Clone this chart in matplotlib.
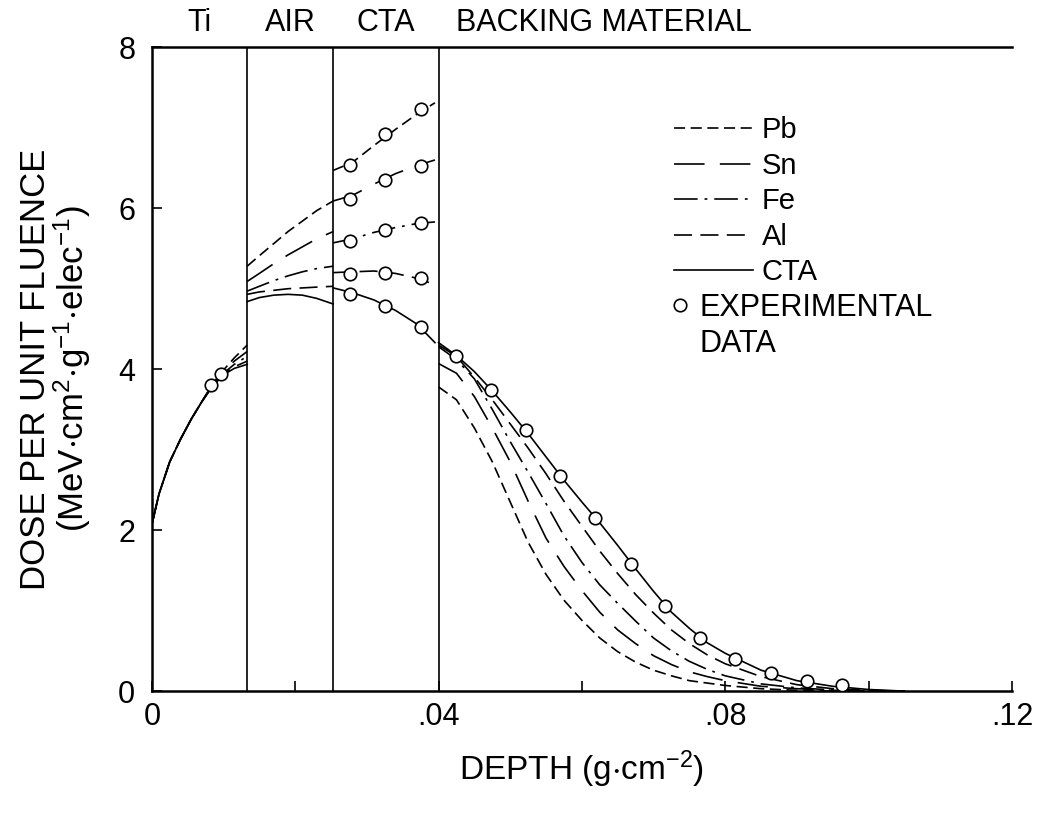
import matplotlib
matplotlib.use("Agg")
import matplotlib.pyplot as plt
from matplotlib.lines import Line2D
from matplotlib.transforms import blended_transform_factory

plt.rcParams.update({
    "font.family": ["Liberation Sans", "DejaVu Sans"],
    "mathtext.fontset": "custom",
    "mathtext.rm": "Liberation Sans",
    "mathtext.it": "Liberation Sans:italic",
    "mathtext.default": "regular",
    "lines.scale_dashes": False,
    "axes.linewidth": 1.8,
})

# ---------------------------------------------------------------------------
# Data (depth in g/cm^2, dose in MeV cm^2 g^-1 per electron)
# ---------------------------------------------------------------------------

MATERIALS = ["Pb", "Sn", "Fe", "Al", "CTA"]
LAYER_BOUNDS = [0.0133, 0.0253, 0.040]
LAYER_NAMES = ["Ti", "AIR", "CTA", "BACKING MATERIAL"]

# Ti window
TI_X = [0.0, 0.001, 0.0025, 0.004, 0.0055, 0.007, 0.0085, 0.010, 0.0115, 0.0133]
TI_Y = {
    "Pb":  [2.07, 2.45, 2.85, 3.13, 3.38, 3.60, 3.82, 3.99, 4.14, 4.30],
    "Sn":  [2.07, 2.45, 2.85, 3.13, 3.38, 3.60, 3.81, 3.97, 4.10, 4.22],
    "Fe":  [2.07, 2.45, 2.85, 3.13, 3.38, 3.60, 3.80, 3.95, 4.06, 4.16],
    "Al":  [2.07, 2.45, 2.85, 3.13, 3.38, 3.60, 3.80, 3.94, 4.03, 4.10],
    "CTA": [2.07, 2.45, 2.85, 3.13, 3.38, 3.60, 3.79, 3.93, 4.01, 4.06],
}

# air gap
AIR_X = [0.0133, 0.015, 0.017, 0.019, 0.021, 0.023, 0.0253]
AIR_Y = {
    "Pb":  [5.28, 5.41, 5.56, 5.71, 5.84, 5.97, 6.09],
    "Sn":  [5.09, 5.19, 5.31, 5.42, 5.52, 5.62, 5.71],
    "Fe":  [4.97, 5.03, 5.10, 5.16, 5.21, 5.25, 5.28],
    "Al":  [4.93, 4.96, 4.98, 5.00, 5.01, 5.02, 5.03],
    "CTA": [4.84, 4.89, 4.92, 4.93, 4.92, 4.88, 4.81],
}

# CTA dosimeter film
CTA_X = [0.0253, 0.028, 0.031, 0.034, 0.037, 0.0395]
CTA_Y = {
    "Pb":  [6.47, 6.57, 6.78, 6.98, 7.17, 7.31],
    "Sn":  [6.09, 6.16, 6.30, 6.43, 6.53, 6.60],
    "Fe":  [5.57, 5.62, 5.70, 5.76, 5.81, 5.83],
    "Al":  [5.20, 5.21, 5.22, 5.19, 5.13, 5.05],
    "CTA": [5.01, 4.95, 4.86, 4.73, 4.56, 4.33],
}

# backing material
BACK_X = [0.040, 0.0425, 0.045, 0.0475, 0.050, 0.0525, 0.055, 0.0575, 0.060,
          0.0625, 0.065, 0.0675, 0.070, 0.0725, 0.075, 0.0775, 0.080, 0.085,
          0.090, 0.095, 0.100, 0.105]
BACK_Y = {
    "Pb":  [3.78, 3.62, 3.27, 2.85, 2.35, 1.85, 1.45, 1.13, 0.88, 0.66, 0.49,
            0.36, 0.26, 0.19, 0.13, 0.10, 0.07, 0.03, 0.01, 0.0, 0.0, 0.0],
    "Sn":  [4.07, 3.95, 3.66, 3.27, 2.85, 2.36, 1.90, 1.55, 1.25, 0.98, 0.76,
            0.59, 0.44, 0.33, 0.24, 0.18, 0.13, 0.06, 0.03, 0.01, 0.0, 0.0],
    "Fe":  [4.28, 4.12, 3.88, 3.50, 3.10, 2.72, 2.33, 1.93, 1.60, 1.32, 1.09,
            0.87, 0.66, 0.50, 0.37, 0.27, 0.19, 0.09, 0.04, 0.015, 0.0, 0.0],
    "Al":  [4.30, 4.16, 3.90, 3.62, 3.32, 3.02, 2.70, 2.36, 2.05, 1.74, 1.46,
            1.20, 0.97, 0.76, 0.59, 0.45, 0.34, 0.18, 0.08, 0.03, 0.01, 0.0],
    "CTA": [4.33, 4.17, 3.97, 3.73, 3.47, 3.20, 2.91, 2.62, 2.35, 2.09, 1.81,
            1.52, 1.24, 0.98, 0.78, 0.60, 0.47, 0.26, 0.13, 0.06, 0.02, 0.0],
}

# experimental points
EXP_TI_X = [0.0083, 0.0097]
EXP_TI_Y = [3.80, 3.94]
EXP_CTA_X = [0.0277, 0.0326, 0.0375]
EXP_CTA_Y = {
    "Pb":  [6.54, 6.92, 7.23],
    "Sn":  [6.11, 6.35, 6.53],
    "Fe":  [5.59, 5.73, 5.82],
    "Al":  [5.18, 5.20, 5.13],
    "CTA": [4.94, 4.79, 4.53],
}
EXP_BACK_X = [0.0425, 0.0473, 0.0522, 0.0570, 0.0618, 0.0668, 0.0716, 0.0765,
              0.0814, 0.0864, 0.0914, 0.0963]
EXP_BACK_Y = [4.17, 3.74, 3.24, 2.67, 2.15, 1.58, 1.06, 0.66, 0.40, 0.23,
              0.13, 0.07]

X_TICKS = [0.0, 0.02, 0.04, 0.06, 0.08, 0.10, 0.12]
X_TICK_LABELS = ["0", "", ".04", "", ".08", "", ".12"]
Y_TICKS = [0, 2, 4, 6, 8]

# ---------------------------------------------------------------------------
# Styles
# ---------------------------------------------------------------------------

STYLES = {
    "Pb": (0, (8, 4)),
    "Sn": (0, (22, 11)),
    "Fe": (0, (17, 5, 2, 5)),
    "Al": (0, (13, 6)),
    "CTA": "-",
}
LW = 1.2
MARKER = dict(marker="o", ms=9, mfc="white", mec="black", mew=1.2, ls="none", zorder=4)

fig = plt.figure(figsize=(10.4, 8.15), dpi=100)
ax = fig.add_axes([0.146, 0.152, 0.827, 0.790])

for xs, ys in ((TI_X, TI_Y), (AIR_X, AIR_Y), (CTA_X, CTA_Y), (BACK_X, BACK_Y)):
    for mat in MATERIALS:
        ax.plot(xs, ys[mat], color="black", lw=LW, ls=STYLES[mat])

for b in LAYER_BOUNDS:
    ax.axvline(b, color="black", lw=1.2)

ax.plot(EXP_TI_X, EXP_TI_Y, **MARKER)
for mat in MATERIALS:
    ax.plot(EXP_CTA_X, EXP_CTA_Y[mat], **MARKER)
ax.plot(EXP_BACK_X, EXP_BACK_Y, **MARKER)

ax.set_xlim(0, 0.12)
ax.set_ylim(0, 8)
ax.set_xticks(X_TICKS)
ax.set_xticklabels(X_TICK_LABELS)
ax.set_yticks(Y_TICKS)
ax.tick_params(direction="in", length=7, width=1.2, labelsize=22)
ax.tick_params(axis="x", pad=8)
ax.tick_params(axis="y", pad=12)
ax.spines["right"].set_visible(False)

ax.set_xlabel(r"DEPTH (g$\cdot$cm$^{-2}$)", fontsize=24, labelpad=12)
ax.set_ylabel("DOSE PER UNIT FLUENCE\n"
              r"(MeV$\cdot$cm$^{2}$$\cdot$g$^{-1}$$\cdot$elec$^{-1}$)",
              fontsize=25, labelpad=18, linespacing=1.0)

# layer names above the frame
trans = blended_transform_factory(ax.transData, ax.transAxes)
edges = [0.0] + LAYER_BOUNDS
for i, name in enumerate(LAYER_NAMES[:3]):
    ax.text((edges[i] + edges[i + 1]) / 2, 1.038, name, transform=trans,
            ha="center", va="center", fontsize=22)
ax.text(LAYER_BOUNDS[-1] + 0.0025, 1.038, LAYER_NAMES[3], transform=trans,
        ha="left", va="center", fontsize=22)

handles = [Line2D([], [], color="black", lw=LW, ls=STYLES[m]) for m in MATERIALS]
leg1 = ax.legend(handles, MATERIALS, loc="upper left", bbox_to_anchor=(0.607, 0.893),
                 frameon=False, fontsize=21, handlelength=2.7, handletextpad=0.32,
                 labelspacing=0.26, borderpad=0, borderaxespad=0)
ax.add_artist(leg1)

exp_handles = [Line2D([], [], **MARKER), Line2D([], [], ls="none")]
ax.legend(exp_handles, ["EXPERIMENTAL", "DATA"], loc="upper left",
          bbox_to_anchor=(0.606, 0.619), frameon=False, fontsize=22,
          handlelength=0.45, handletextpad=0.4, labelspacing=0.2,
          borderpad=0, borderaxespad=0)

fig.savefig("out.png", dpi=100, facecolor="white")
